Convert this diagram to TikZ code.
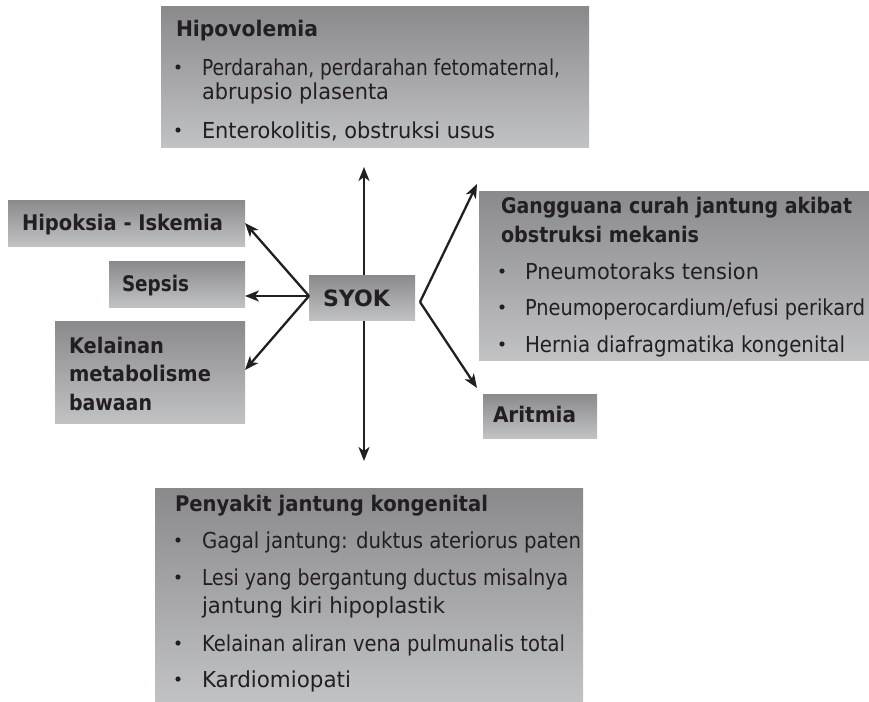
\documentclass[tikz,border=0pt]{standalone}
\usepackage{fontspec}
\usepackage{graphicx}
\setmainfont{DejaVu Sans}
\usetikzlibrary{arrows.meta}
\definecolor{boxtop}{RGB}{138,138,140}
\definecolor{boxbot}{RGB}{193,194,196}
\definecolor{ink}{RGB}{35,31,32}
\newcommand\fitw[2]{\resizebox{#1pt}{\height}{#2}}
\tikzset{
  box/.style={anchor=north west, inner sep=0pt, outer sep=0pt, top color=boxtop, bottom color=boxbot, draw=none},
  head/.style={anchor=base west, inner sep=0pt, outer sep=0pt, text=ink, font=\fontsize{21.5}{25}\selectfont\bfseries},
  body/.style={anchor=base west, inner sep=0pt, outer sep=0pt, text=ink, font=\fontsize{22}{26}\selectfont},
  bul/.style={circle, fill=ink, inner sep=0pt, minimum size=5.2pt},
  arr/.style={draw=ink, line width=2.3pt, -{Stealth[length=14pt,width=11pt,inset=4pt]}},
  darr/.style={draw=ink, line width=2.3pt, {Stealth[length=14pt,width=11pt,inset=4pt]}-{Stealth[length=14pt,width=11pt,inset=4pt]}},
}
\begin{document}
\begin{tikzpicture}[x=1pt,y=-1pt]
\useasboundingbox (0,0) rectangle (869,701);
% vertical arrow behind SYOK
\coordinate (vtop) at (364,167);
\coordinate (vbot) at (364,461);
\draw[darr] (vtop) -- (vbot);
% boxes
\node[box, minimum width=428pt, minimum height=140pt] (hipo) at (161,7) {};
\node[box, minimum width=237pt, minimum height=46pt] (hipox) at (8,200) {};
\node[box, minimum width=136pt, minimum height=46pt] (sepsis) at (109,261) {};
\node[box, minimum width=190pt, minimum height=102pt] (kel) at (55,321) {};
\node[box, minimum width=106pt, minimum height=45pt] (syok) at (309,275) {};
\node[box, minimum width=390pt, minimum height=169pt] (gang) at (479,191) {};
\node[box, minimum width=114pt, minimum height=44pt] (arit) at (483,394) {};
\node[box, minimum width=428pt, minimum height=213pt] (peny) at (155,488) {};
% texts: Hipovolemia
\node[head] (hipo-h) at (176,36) {\fitw{142}{Hipovolemia}};
\node[bul] (hipo-b1) at (178,67) {};
\node[body] (hipo-1a) at (202,75) {\fitw{358}{Perdarahan, perdarahan fetomaternal,}};
\node[body] (hipo-1b) at (202,99) {\fitw{187}{abrupsio plasenta}};
\node[bul] (hipo-b2) at (178,130) {};
\node[body] (hipo-2) at (202,138) {\fitw{293}{Enterokolitis, obstruksi usus}};
% left boxes
\node[head] (hipox-t) at (22,230) {\fitw{201}{Hipoksia - Iskemia}};
\node[head] (sepsis-t) at (122,291) {\fitw{67}{Sepsis}};
\node[head] (kel-1) at (69,353) {\fitw{95}{Kelainan}};
\node[head] (kel-2) at (69,381) {\fitw{142}{metabolisme}};
\node[head] (kel-3) at (69,410) {\fitw{83}{bawaan}};
% SYOK
\node[head, font=\fontsize{22.5}{26}\selectfont\bfseries] (syok-t) at (323,306) {\fitw{67}{SYOK}};
% right box
\node[head] (gang-h1) at (501,213) {\fitw{351}{Gangguana curah jantung akibat}};
\node[head] (gang-h2) at (501,242) {\fitw{198}{obstruksi mekanis}};
\node[bul] (gang-b1) at (502,271) {};
\node[body] (gang-1) at (525,279) {\fitw{234}{Pneumotoraks tension}};
\node[bul] (gang-b2) at (502,307) {};
\node[body] (gang-2) at (525,315) {\fitw{340}{Pneumoperocardium/efusi perikard}};
\node[bul] (gang-b3) at (502,344) {};
\node[body] (gang-3) at (525,352) {\fitw{320}{Hernia diafragmatika kongenital}};
\node[head] (arit-t) at (493,422) {\fitw{83}{Aritmia}};
% bottom box
\node[head] (peny-h) at (175,511) {\fitw{313}{Penyakit jantung kongenital}};
\node[bul] (peny-b1) at (178,540) {};
\node[body] (peny-1) at (202,548) {\fitw{379}{Gagal jantung: duktus ateriorus paten}};
\node[bul] (peny-b2) at (178,577) {};
\node[body] (peny-2a) at (202,585) {\fitw{366}{Lesi yang bergantung ductus misalnya}};
\node[body] (peny-2b) at (202,613) {\fitw{243}{jantung kiri hipoplastik}};
\node[bul] (peny-b3) at (178,643) {};
\node[body] (peny-3) at (202,651) {\fitw{363}{Kelainan aliran vena pulmunalis total}};
\node[bul] (peny-b4) at (178,679) {};
\node[body] (peny-4) at (202,687) {\fitw{149}{Kardiomiopati}};
% connectors
\coordinate (lorig) at (309,296);
\coordinate (rorig) at (420,302);
\draw[arr] (lorig) -- (hipox.east);
\draw[arr] (lorig) -- (lorig -| sepsis.east);
\draw[arr] (lorig) -- ([shift={(0,-2)}]kel.east);
\draw[arr] (rorig) -- ([shift={(-2,-7)}]gang.north west);
\draw[arr] (rorig) -- ([shift={(-6,-6)}]arit.north west);
\end{tikzpicture}
\end{document}
